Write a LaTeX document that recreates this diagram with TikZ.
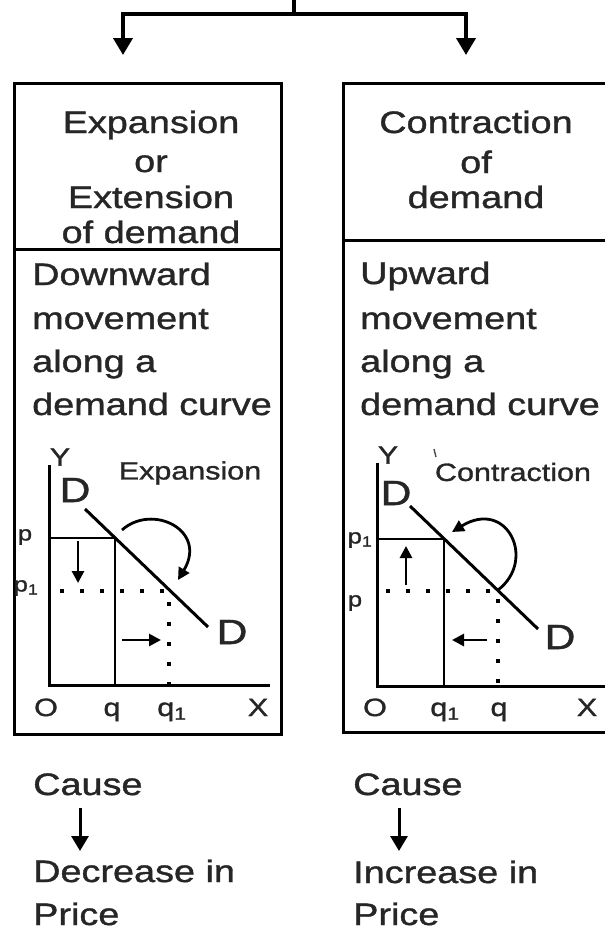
\documentclass[tikz,border=0pt]{standalone}
\usepackage{fontspec}
\setmainfont[FakeStretch=1.22,FakeBold=1.2]{Liberation Sans}
\usetikzlibrary{arrows.meta}
\begin{document}
\begin{tikzpicture}[x=1pt,y=-1pt,
  conn/.style={line width=4pt,-{Triangle[length=17pt,width=19pt]}},
  border/.style={line width=3pt},
  axis/.style={line width=3pt},
  guide/.style={line width=2.8pt},
  dots/.style={line width=3.6pt,dash pattern=on 4pt off 16pt},
  garrow/.style={line width=2.8pt,-{Triangle[length=12pt,width=12pt]}},
  carrow/.style={line width=3pt,-{Triangle[length=15pt,width=17pt]}},
  txt/.style={inner sep=0pt,text=black!85,font=\fontsize{31}{31}\selectfont},
  lab/.style={inner sep=0pt,text=black!85,font=\fontsize{25}{25}\selectfont},
  bigD/.style={inner sep=0pt,text=black!85,font=\fontsize{35}{35}\selectfont},
  small/.style={inner sep=0pt,text=black!85,font=\fontsize{21}{21}\selectfont},
]
\useasboundingbox[fill=white] (0,0) rectangle (605,932);

% top fork
\coordinate (src) at (294,0);
\coordinate (fork) at (294,14);
\coordinate (aL) at (123,55);
\coordinate (aR) at (466,55);
\draw[line width=4pt] (src) -- (fork);
\draw[conn] (fork) -| (aL);
\draw[conn] (fork) -| (aR);

% boxes
\draw[border] (14,83) rectangle (281,734);
\draw[border] (14,249) -- (281,249);
\draw[border] (610,83) -- (343,83) -- (343,732) -- (610,732);
\draw[border] (343,240) -- (610,240);

% headers
\node[txt,anchor=base] (hL1) at (151,133) {Expansion};
\node[txt,anchor=base] (hL2) at (151,172) {or};
\node[txt,anchor=base] (hL3) at (151,208) {Extension};
\node[txt,anchor=base] (hL4) at (151,243) {of demand};
\node[txt,anchor=base] (hR1) at (476,133) {Contraction};
\node[txt,anchor=base] (hR2) at (476,173) {of};
\node[txt,anchor=base] (hR3) at (476,208) {demand};

% body texts
\node[txt,anchor=base west] (bL1) at (32,285) {Downward};
\node[txt,anchor=base west] (bL2) at (32,329) {movement};
\node[txt,anchor=base west] (bL3) at (32,372) {along a};
\node[txt,anchor=base west] (bL4) at (32,415) {demand curve};
\node[txt,anchor=base west] (bR1) at (360,284) {Upward};
\node[txt,anchor=base west] (bR2) at (360,329) {movement};
\node[txt,anchor=base west] (bR3) at (360,372) {along a};
\node[txt,anchor=base west] (bR4) at (360,415) {demand curve};

% ---- left graph
\draw[axis] (49,465) -- (49,685) -- (270,685);
\draw[axis] (85,509) -- (208,627);
\draw[guide] (49,538) -- (115,538) -- (115,685);
\draw[dots] (60,591) -- (169,591) -- (169,685);
\draw[garrow] (78,541) -- (78,583);
\draw[garrow] (122,640) -- (161,640);
\draw[garrow] (122,530) .. controls (152,503) and (208,530) .. (178,580);
\node[lab] (lY) at (60,457) {Y};
\node[bigD] (lD1) at (75,490) {D};
\node[bigD] (lD2) at (232,632) {D};
\node[lab] (lExp) at (190,473) {Expansion};
\node[small] (lp) at (25,537) {p};
\node[small] (lp1) at (26,588) {p\textsubscript{1}};
\node[lab,anchor=base] (lO) at (46,716) {O};
\node[lab,anchor=base] (lq) at (112,716) {q};
\node[lab,anchor=base] (lq1) at (172,716) {q\textsubscript{1}};
\node[lab,anchor=base] (lX) at (258,716) {X};

% ---- right graph
\draw[axis] (377,463) -- (377,686) -- (607,686);
\draw[axis] (410,506) -- (538,629);
\draw[guide] (377,539) -- (444,539) -- (444,686);
\draw[dots] (386,591) -- (498,591) -- (498,686);
\draw[garrow] (406,585) -- (406,546);
\draw[garrow] (487,640) -- (452,640);
\draw[garrow] (498,590) .. controls (537,560) and (507,498) .. (452,532);
\draw[line width=1.4pt,black!70] (434,449) -- (436,457);
\node[lab] (rY) at (388,455) {Y};
\node[lab] (rCon) at (513,472) {Contraction};
\node[bigD] (rD1) at (396,493) {D};
\node[bigD] (rD2) at (560,637) {D};
\node[small] (rp1) at (360,540) {p\textsubscript{1}};
\node[small] (rp) at (355,603) {p};
\node[lab,anchor=base] (rO) at (375,716) {O};
\node[lab,anchor=base] (rq1) at (445,716) {q\textsubscript{1}};
\node[lab,anchor=base] (rq) at (499,716) {q};
\node[lab,anchor=base] (rX) at (587,716) {X};

% ---- bottom
\node[txt,anchor=base west] (cL) at (33,795) {Cause};
\node[txt,anchor=base west] (dL1) at (33,882) {Decrease in};
\node[txt,anchor=base west] (dL2) at (33,925) {Price};
\coordinate (cLa) at (80,808);
\coordinate (cLb) at (80,851);
\draw[carrow] (cLa) -- (cLb);
\node[txt,anchor=base west] (cR) at (353,795) {Cause};
\node[txt,anchor=base west] (dR1) at (353,883) {Increase in};
\node[txt,anchor=base west] (dR2) at (353,925) {Price};
\coordinate (cRa) at (399,808);
\coordinate (cRb) at (399,851);
\draw[carrow] (cRa) -- (cRb);
\end{tikzpicture}
\end{document}
